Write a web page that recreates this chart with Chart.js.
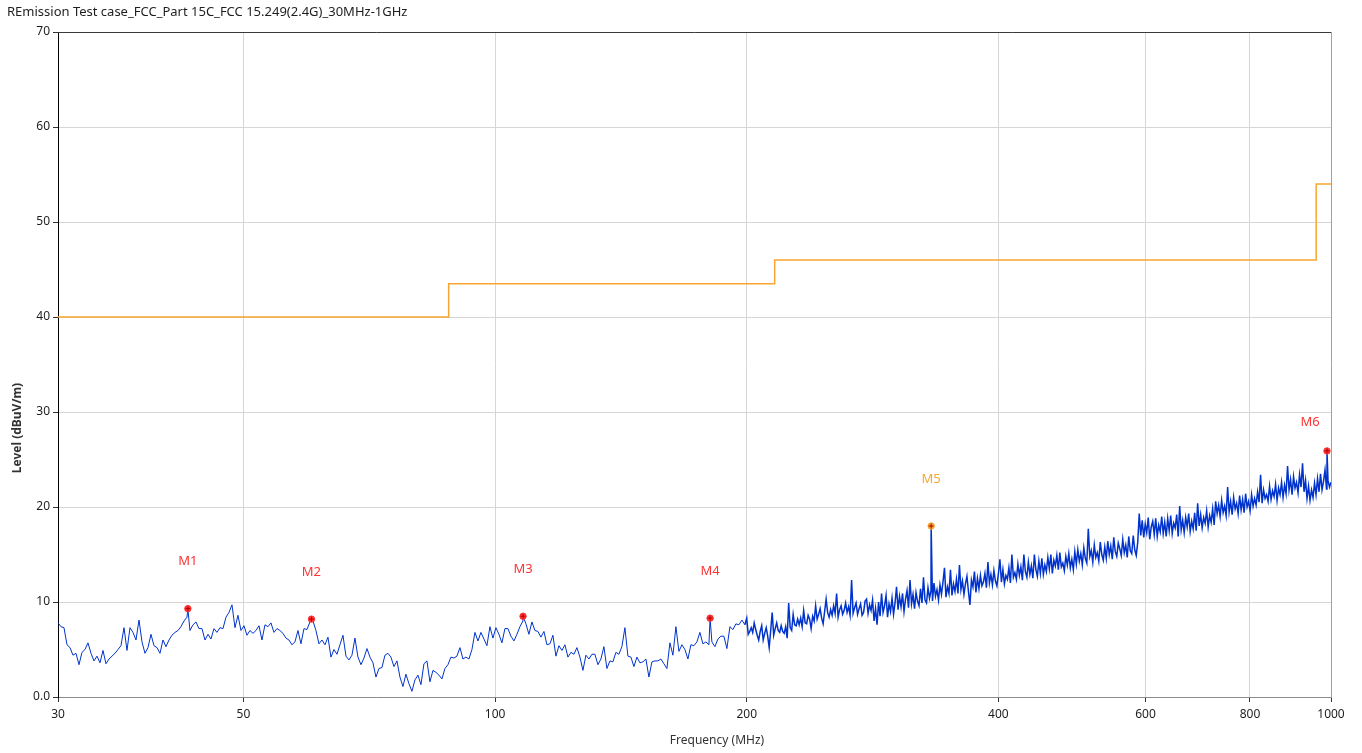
<!DOCTYPE html>
<html>
<head>
<meta charset="utf-8">
<title>REmission Test case_FCC_Part 15C_FCC 15.249(2.4G)_30MHz-1GHz</title>
<script src="https://cdn.jsdelivr.net/npm/chart.js@4.4.1/dist/chart.umd.min.js"></script>
<style>
  html, body { margin: 0; padding: 0; background: #fff; }
  canvas { display: block; }
</style>
</head>
<body>
<canvas id="emiChart" width="1362" height="753"></canvas>
<script>
// two sweep segments, log spaced; the upper one is read at a finer step
const lowStart = 30;
const lowStop = 199;
const lowLevel = [
  7.8,7.4,7.3,5.5,5.2,4.4,4.6,3.4,4.7,5.0,5.7,4.6,3.8,4.3,3.6,4.9,3.5,4.0,4.3,4.6,
  5.0,5.4,7.3,4.9,7.3,6.8,6.0,8.1,5.8,4.6,5.2,6.6,5.4,5.2,4.6,6.0,5.3,6.0,6.5,6.8,
  7.0,7.4,8.0,8.4,7.0,7.6,7.9,7.2,7.2,6.0,6.6,6.1,7.2,6.8,7.3,7.2,8.4,8.9,9.7,7.3,
  8.6,7.0,7.5,6.5,7.0,6.7,7.0,7.5,6.0,7.6,7.4,7.8,6.8,7.2,7.0,6.7,6.2,6.0,5.5,5.8,
  7.0,5.6,7.2,7.1,7.9,8.0,7.0,5.6,6.0,5.5,6.3,4.2,5.0,4.5,5.5,6.5,4.3,3.9,4.4,6.2,
  4.2,3.4,4.1,5.1,4.2,3.6,2.1,3.0,3.1,4.4,4.6,4.2,3.2,3.8,2.1,1.1,2.4,1.4,0.6,1.8,
  2.3,1.3,3.5,3.8,1.6,2.8,2.6,2.3,1.9,3.0,3.4,4.2,4.1,4.3,5.2,4.0,4.2,4.0,5.0,6.8,
  5.9,6.8,6.1,5.4,7.4,6.2,7.3,6.6,5.7,7.2,7.2,6.4,5.9,6.6,7.4,8.0,7.7,6.6,7.9,7.0,
  6.9,6.3,6.9,5.5,5.6,6.5,4.3,5.4,4.9,5.5,4.2,4.7,4.5,5.2,4.2,2.8,4.4,4.0,4.5,4.5,
  3.4,4.0,5.3,3.0,3.8,3.7,4.7,4.5,5.3,7.3,4.3,4.2,3.2,4.2,3.6,3.7,4.0,2.1,3.7,3.8,
  3.8,4.0,3.5,3.0,5.7,4.4,7.4,4.8,5.5,5.0,4.0,5.5,5.4,5.8,6.8,5.6,5.8,5.5,5.8,5.3,
  6.1,6.4,6.4,5.1,7.4,7.1,7.7,7.6,8.1,7.6
];

const highStart = 200;
const highStop = 1000;
const highLevel = [
  8.3,6.6,6.9,7.3,6.8,7.8,7.1,6.5,6.0,6.9,7.5,6.0,6.7,7.3,6.4,5.2,7.0,8.9,6.5,7.2,
  7.8,7.0,6.8,7.5,6.9,6.7,7.4,6.2,9.9,7.3,7.0,8.7,7.6,7.5,8.2,7.6,8.3,7.4,9.1,7.8,
  7.7,8.6,8.2,7.2,8.5,8.0,9.6,8.2,8.7,9.3,8.3,7.7,9.0,10.3,8.9,8.4,9.2,8.6,9.6,8.8,
  10.9,8.4,9.2,9.6,8.7,9.1,9.9,8.9,9.5,8.6,12.3,8.8,9.4,9.9,8.7,9.3,9.8,8.6,8.9,10.1,
  10.3,8.8,9.7,9.1,10.2,8.0,9.3,7.6,10.0,8.5,10.9,8.9,9.6,10.7,8.4,9.8,9.0,10.4,8.7,9.9,
  11.6,9.2,10.6,9.5,10.9,9.0,10.3,11.2,9.4,12.3,9.8,10.8,9.3,11.0,10.1,9.6,11.4,9.9,12.6,10.2,
  9.9,11.5,10.4,11.2,10.1,12.0,10.6,11.3,10.2,11.8,10.8,12.1,13.6,10.5,11.6,10.9,13.4,10.7,11.9,11.1,
  12.4,10.9,13.9,11.3,12.2,10.8,11.9,12.7,11.1,9.7,12.3,11.6,13.2,11.0,12.5,11.4,12.8,11.7,12.1,13.0,
  11.5,14.2,12.0,12.9,11.8,13.3,12.2,11.7,13.0,14.5,12.1,13.4,11.9,12.8,12.4,13.6,12.0,15.0,12.6,13.1,
  12.4,14.0,12.8,13.7,12.3,15.0,13.2,12.6,14.2,12.9,13.8,12.5,15.0,13.4,12.7,14.3,13.0,14.6,12.9,13.9,
  13.2,14.7,13.5,15.0,13.0,14.4,13.8,14.9,13.4,15.2,13.7,14.1,13.3,14.8,13.9,15.1,13.6,14.5,13.4,15.3,
  14.0,15.5,14.3,15.1,13.9,15.7,14.6,14.1,17.7,14.8,15.4,14.2,16.0,14.7,15.2,14.3,16.3,15.0,14.4,15.8,
  14.6,16.4,15.0,15.9,14.5,16.8,15.3,14.8,16.2,15.6,14.9,16.6,15.2,16.0,14.7,16.9,15.4,15.1,17.0,15.5,
  14.9,16.3,19.3,17.0,18.6,16.8,18.2,17.3,18.9,16.6,17.9,18.5,17.1,18.8,16.9,18.1,17.4,19.0,17.2,18.4,
  16.9,18.8,17.5,19.1,17.2,18.3,17.8,19.2,16.9,20.1,17.6,18.6,17.3,18.9,17.9,19.3,17.4,18.5,17.7,19.4,
  17.5,20.4,18.0,19.2,17.8,18.9,18.3,19.6,17.9,19.1,18.4,19.8,18.1,20.6,19.3,20.2,19.0,20.7,19.4,20.1,
  19.1,22.1,19.5,20.6,19.2,21.0,19.8,20.4,19.3,21.2,19.7,20.8,19.4,21.4,20.0,20.6,19.6,21.3,20.1,20.9,
  20.2,21.6,20.5,23.4,20.4,21.8,20.9,21.3,20.6,22.2,20.8,21.7,21.1,22.4,20.7,22.0,21.3,22.6,21.0,22.3,
  21.4,24.3,21.8,22.9,21.3,23.2,22.0,22.6,21.5,23.4,22.1,24.6,21.6,22.8,20.9,22.2,20.7,21.8,21.0,22.5,
  21.3,23.0,21.6,23.5,21.8,22.7,23.9,21.9,22.8,22.1,22.6
];

// FCC 15.209 class B limit (3 m)
const limitFreq = [30, 88, 216, 960, 1000];
const limitLevel = [40, 43.5, 46, 54, 54];

const markerName = ['M1', 'M2', 'M3', 'M4', 'M5', 'M6'];
const markerFreq = [42.9, 60.3, 108.0, 180.8, 332.4, 989.0];
const markerLevel = [9.3, 8.2, 8.5, 8.3, 18.0, 25.9];

const xTicks = [30, 50, 100, 200, 400, 600, 800, 1000];
const yTicks = [0, 10, 20, 30, 40, 50, 60, 70];

const chartTitle = 'REmission Test case_FCC_Part 15C_FCC 15.249(2.4G)_30MHz-1GHz';
const xTitle = 'Frequency (MHz)';
const yTitle = 'Level (dBuV/m)';

const RED = '#ff3333';
const ORANGE = '#f7a731';
const TRACE = '#0033cc';
const markerColor = [RED, RED, RED, RED, ORANGE, RED];
const FONT = '"Noto Sans", "DejaVu Sans", sans-serif';

function sweep(start, stop, levels) {
  return levels.map((v, i) => ({
    x: start * Math.pow(stop / start, i / (levels.length - 1)),
    y: v
  }));
}

// marker peaks are merged into the segment they fall in, so the spikes reach them
const lowPts = sweep(lowStart, lowStop, lowLevel);
const highPts = [lowPts[lowPts.length - 1]].concat(sweep(highStart, highStop, highLevel));
markerFreq.forEach((f, i) => {
  (f < highStart ? lowPts : highPts).push({x: f, y: markerLevel[i]});
});
lowPts.sort((a, b) => a.x - b.x);
highPts.sort((a, b) => a.x - b.x);

const limitPts = limitFreq.map((f, i) => ({x: f, y: limitLevel[i]}));
const markerPts = markerFreq.map((f, i) => ({x: f, y: markerLevel[i]}));

const emiText = {
  id: 'emiText',
  afterDraw(chart) {
    const {ctx, chartArea, scales} = chart;
    ctx.save();

    // frame: top and right edges
    ctx.lineWidth = 1;
    ctx.strokeStyle = '#3a3a3a';
    ctx.beginPath();
    ctx.moveTo(chartArea.left, chartArea.top + 0.5);
    ctx.lineTo(chartArea.right, chartArea.top + 0.5);
    ctx.stroke();
    ctx.strokeStyle = '#a0a0a0';
    ctx.beginPath();
    ctx.moveTo(chartArea.right + 0.5, chartArea.top);
    ctx.lineTo(chartArea.right + 0.5, chartArea.bottom);
    ctx.stroke();

    ctx.textBaseline = 'middle';
    ctx.fillStyle = '#1e1e1e';
    ctx.font = '13px ' + FONT;
    ctx.textAlign = 'left';
    ctx.fillText(chartTitle, 7, 12);

    ctx.font = '12px ' + FONT;
    ctx.fillStyle = '#333';
    ctx.textAlign = 'center';
    ctx.fillText(xTitle, 717, 741);

    ctx.save();
    ctx.translate(18, 428);
    ctx.rotate(-Math.PI / 2);
    ctx.font = 'bold 12px ' + FONT;
    ctx.fillText(yTitle, 0, 0);
    ctx.restore();

    // marker names above each peak
    ctx.font = '13px ' + FONT;
    markerName.forEach((name, i) => {
      let px = scales.x.getPixelForValue(markerFreq[i]);
      let py = scales.y.getPixelForValue(markerLevel[i]) - 47;
      if (px > chartArea.right - 21) {
        px = chartArea.right - 21;
        py += 18;
      }
      ctx.fillStyle = markerColor[i];
      ctx.fillText(name, px, py);
    });
    ctx.restore();
  }
};

new Chart(document.getElementById('emiChart'), {
  type: 'line',
  data: {
    datasets: [
      {
        type: 'scatter',
        data: markerPts,
        pointStyle: 'cross',
        pointRadius: 2.5,
        borderColor: '#b40000',
        borderWidth: 1,
        order: 0
      },
      {
        type: 'scatter',
        data: markerPts,
        pointStyle: 'circle',
        pointRadius: 3.2,
        backgroundColor: markerColor,
        borderColor: markerColor,
        borderWidth: 1,
        order: 1
      },
      {
        data: lowPts,
        borderColor: TRACE,
        borderWidth: 1,
        pointRadius: 0,
        tension: 0,
        order: 2
      },
      {
        data: highPts,
        borderColor: TRACE,
        borderWidth: 1.5,
        pointRadius: 0,
        tension: 0,
        order: 2
      },
      {
        data: limitPts,
        stepped: 'before',
        borderColor: ORANGE,
        borderWidth: 1.5,
        pointRadius: 0,
        order: 3
      }
    ]
  },
  options: {
    responsive: false,
    animation: false,
    layout: {padding: {left: 0, right: 31, top: 32, bottom: 0}},
    plugins: {
      legend: {display: false},
      title: {display: false},
      tooltip: {enabled: false}
    },
    scales: {
      x: {
        type: 'logarithmic',
        min: 30,
        max: 1000,
        afterBuildTicks: s => { s.ticks = xTicks.map(v => ({value: v})); },
        afterFit: s => { s.height = 56; },
        ticks: {
          autoSkip: false,
          maxRotation: 0,
          padding: 5,
          color: '#1e1e1e',
          font: {family: FONT, size: 12},
          callback: v => String(v)
        },
        grid: {color: '#d6d6d6', tickColor: '#333', tickLength: 5},
        border: {color: '#8c8c8c', width: 1}
      },
      y: {
        type: 'linear',
        min: 0,
        max: 70,
        afterBuildTicks: s => { s.ticks = yTicks.map(v => ({value: v})); },
        afterFit: s => { s.width = 58; },
        ticks: {
          padding: 3,
          color: '#1e1e1e',
          font: {family: FONT, size: 12},
          callback: v => v === 0 ? '0.0' : String(v)
        },
        grid: {color: '#d6d6d6', tickColor: '#333', tickLength: 5},
        border: {color: '#000', width: 1}
      }
    }
  },
  plugins: [emiText]
});
</script>
</body>
</html>
